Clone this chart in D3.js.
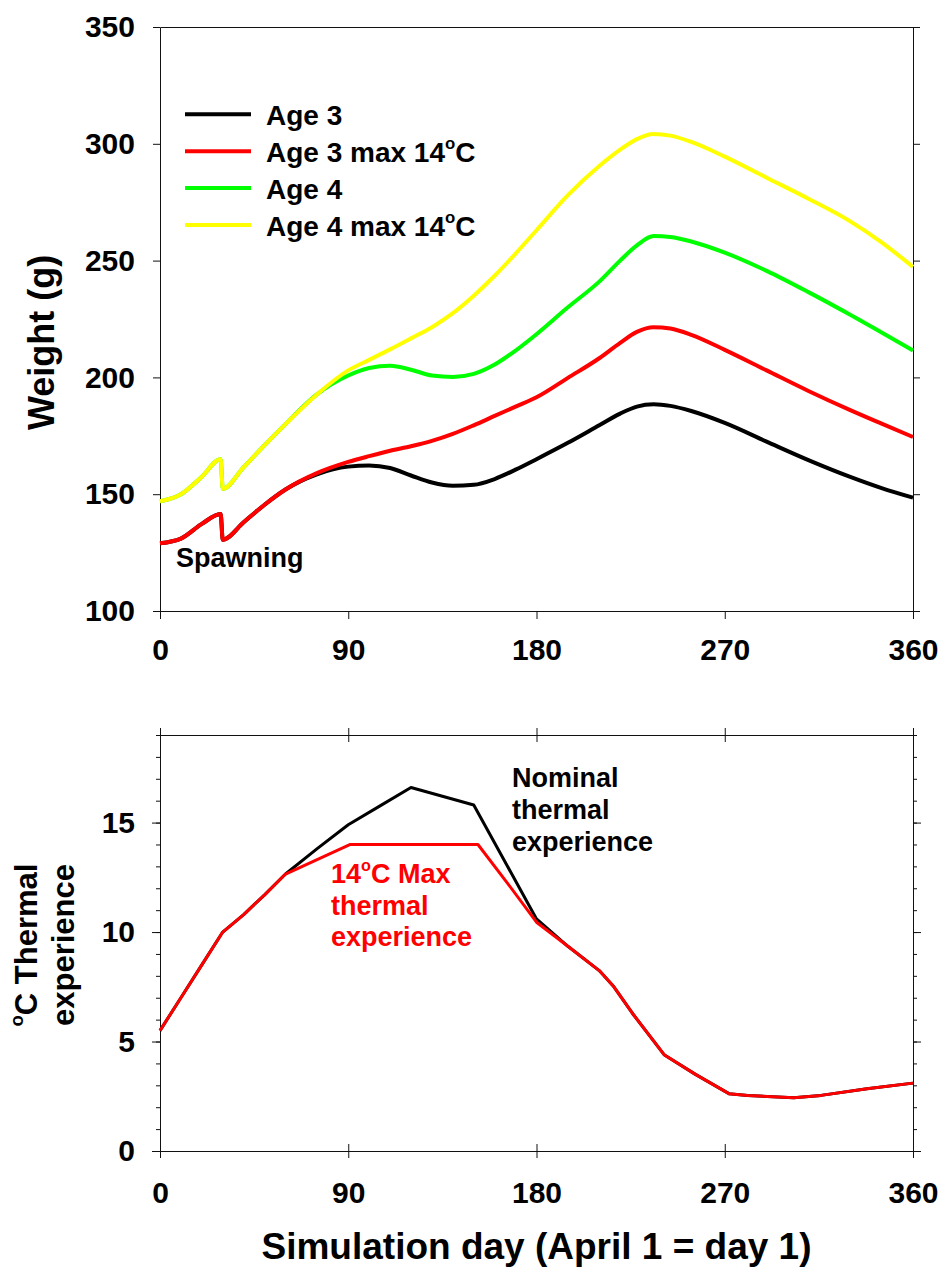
<!DOCTYPE html>
<html>
<head>
<meta charset="utf-8">
<script src="https://cdn.jsdelivr.net/npm/d3@7"></script>
<style>
body { margin: 0; background: #fff; }
svg text { font-family: "Liberation Sans", Arial, sans-serif; font-weight: bold; fill: #000; }
.tick text { font-size: 30px; }
.tick line, .domain { stroke: #111; }
.line { fill: none; stroke-linejoin: round; }
</style>
</head>
<body>
<div id="chart"></div>
<script>
// ---- weight panel data ----
var days = [0, 10, 20, 29, 30, 40, 50, 60, 75, 90, 100, 110, 120, 130, 140, 150, 160, 170, 180, 195, 210, 220, 228, 236, 244, 254, 270, 290, 310, 330, 345, 360];
var age3 =      [129, 131, 137.3, 141.5, 130.5, 138, 145.5, 152, 158.5, 161.8, 162.3, 161.2, 158, 155, 153.6, 154, 156.5, 160.5, 165, 172, 179.5, 184.5, 187.5, 188.5, 187.8, 185.6, 180.5, 172.5, 164.6, 157.4, 152.6, 148.5];
var age3max14 = [129, 131, 137.3, 141.5, 130.5, 138, 145.5, 152, 159, 163.8, 166.3, 168.6, 170.5, 172.8, 175.8, 179.5, 183.5, 187.5, 191.5, 199.8, 208.2, 214.8, 219.5, 221.5, 220.9, 218.2, 211.8, 203, 194.2, 186, 180.2, 174.5];
var age4 =      [147, 150, 157.5, 165, 152.3, 161.6, 171, 180, 192.7, 200.8, 204, 205, 203.3, 200.8, 200.2, 201.5, 205.5, 211.5, 218.5, 230, 241, 250, 256.5, 260.5, 260.1, 258.2, 253.4, 245.6, 236.5, 226.8, 219.2, 211.5];
var age4max14 = [147, 150, 157.5, 165, 152.3, 161.6, 171, 180, 192.7, 203, 207.5, 212, 216.7, 221.5, 227.5, 235, 243.5, 253, 263, 278, 290.5, 297.5, 302, 304.2, 303.5, 300.8, 294.5, 285.5, 276.5, 266.8, 257.8, 247.3];
var seriesNames = ["Age 3", "Age 3 max 14", "Age 4", "Age 4 max 14"];
var seriesColors = ["#000000", "#ff0000", "#00ff00", "#ffff00"];
var weightTicks = [100, 150, 200, 250, 300, 350];
var dayTicks = [0, 90, 180, 270, 360];

// ---- thermal panel data ----
var nominalDays = [0, 10, 20, 30, 40, 50, 60, 75, 90, 105, 120, 135, 150, 165, 180, 195, 210, 217, 226, 241, 256, 272, 281, 303, 316, 338, 360];
var nominalTemp = [5.5, 7.0, 8.5, 10.0, 10.8, 11.7, 12.65, 13.8, 14.9, 15.75, 16.6, 16.2, 15.8, 13.2, 10.6, 9.35, 8.24, 7.5, 6.27, 4.4, 3.5, 2.62, 2.54, 2.43, 2.54, 2.84, 3.1];
var maxDays = [0, 10, 20, 30, 40, 50, 60, 91, 152, 166, 180, 195, 210, 217, 226, 241, 256, 272, 281, 303, 316, 338, 360];
var maxTemp = [5.5, 7.0, 8.5, 10.0, 10.8, 11.7, 12.65, 14, 14, 12.25, 10.45, 9.35, 8.24, 7.5, 6.27, 4.4, 3.5, 2.62, 2.54, 2.43, 2.54, 2.84, 3.1];
var tempTicks = [0, 5, 10, 15];
var tempMinor = d3.range(0, 20);

var svg = d3.select("#chart").append("svg")
    .attr("width", 939)
    .attr("height", 1270);

var left = 160, right = 913;
var x = d3.scaleLinear().domain([0, 360]).range([left, right]);
var yW = d3.scaleLinear().domain([100, 350]).range([611, 27]);
var yT = d3.scaleLinear().domain([0, 19]).range([1151, 735]);
var color = d3.scaleOrdinal().domain(seriesNames).range(seriesColors);

// raised small "o" before C, like the original
function degC(sel, before, after) {
  sel.append("tspan").text(before);
  sel.append("tspan").attr("font-size", "0.6em").attr("dy", "-0.75em").text("o");
  sel.append("tspan").attr("dy", "0.45em").text(after);
}

//---------------- top panel: weight ----------------
svg.append("g")
  .attr("transform", "translate(" + left + ",0)")
  .call(d3.axisLeft(yW).tickValues(weightTicks).tickSize(7).tickSizeOuter(0).tickPadding(18));

svg.append("g")
  .attr("transform", "translate(" + right + ",0)")
  .call(d3.axisRight(yW).tickValues(weightTicks).tickSize(7).tickSizeOuter(0).tickFormat(""));

svg.append("g")
  .attr("transform", "translate(0," + yW(100) + ")")
  .call(d3.axisBottom(x).tickValues(dayTicks).tickSize(8).tickSizeOuter(0).tickPadding(20));

svg.append("g")
  .attr("transform", "translate(0," + yW(350) + ")")
  .call(d3.axisTop(x).tickValues([]).tickSizeOuter(0));

var weightSeries = [age3, age3max14, age4, age4max14];

var wline = d3.line()
  .x(function(d, i) { return x(days[i]); })
  .y(function(d) { return yW(d); })
  .curve(d3.curveMonotoneX);

svg.append("g").selectAll("path")
  .data(weightSeries)
  .enter().append("path")
    .attr("class", "line")
    .attr("stroke", function(d, i) { return color(seriesNames[i]); })
    .attr("stroke-width", 4)
    .attr("d", wline);

// legend
var legend = svg.append("g").selectAll("g")
  .data(seriesNames)
  .enter().append("g")
    .attr("transform", function(d, i) { return "translate(185," + (114.3 + i * 36.9) + ")"; });

legend.append("line")
  .attr("x1", 0).attr("x2", 66)
  .attr("stroke", function(d) { return color(d); })
  .attr("stroke-width", 4);

legend.append("text")
  .attr("x", 81)
  .attr("y", 10.5)
  .style("font-size", "28px")
  .each(function(d) {
    var t = d3.select(this);
    if (d.indexOf("max") > -1) degC(t, d, "C");
    else t.text(d);
  });

svg.append("text")
  .attr("x", 176)
  .attr("y", 567)
  .style("font-size", "27px")
  .text("Spawning");

svg.append("text")
  .attr("transform", "rotate(-90)")
  .attr("x", -yW(215))
  .attr("y", 54)
  .attr("text-anchor", "middle")
  .style("font-size", "36px")
  .text("Weight (g)");

//---------------- bottom panel: temperature ----------------
svg.append("g")
  .attr("transform", "translate(" + left + ",0)")
  .call(d3.axisLeft(yT).tickValues(tempMinor).tickSize(4).tickSizeOuter(0).tickFormat(""));

svg.append("g")
  .attr("transform", "translate(" + left + ",0)")
  .call(d3.axisLeft(yT).tickValues(tempTicks).tickSize(8).tickSizeOuter(0).tickPadding(17));

svg.append("g")
  .attr("transform", "translate(" + right + ",0)")
  .call(d3.axisRight(yT).tickValues(tempMinor).tickSize(4).tickSizeOuter(0).tickFormat(""));

svg.append("g")
  .attr("transform", "translate(" + right + ",0)")
  .call(d3.axisRight(yT).tickValues(tempTicks).tickSize(8).tickSizeOuter(0).tickFormat(""));

var xb = svg.append("g")
  .attr("transform", "translate(0," + yT(0) + ")")
  .call(d3.axisBottom(x).tickValues(dayTicks).tickSize(7).tickSizeOuter(0).tickPadding(24));
xb.selectAll(".tick line").attr("y1", -7);

var xt = svg.append("g")
  .attr("transform", "translate(0," + yT(19) + ")")
  .call(d3.axisTop(x).tickValues(dayTicks).tickSize(7).tickSizeOuter(0).tickFormat(""));
xt.selectAll(".tick line").attr("y1", 7);

var tline = d3.line()
  .x(function(d) { return x(d[0]); })
  .y(function(d) { return yT(d[1]); });

svg.append("path")
  .attr("class", "line")
  .attr("stroke", "#000")
  .attr("stroke-width", 3)
  .attr("d", tline(d3.zip(nominalDays, nominalTemp)));

svg.append("path")
  .attr("class", "line")
  .attr("stroke", "#ff0000")
  .attr("stroke-width", 3)
  .attr("d", tline(d3.zip(maxDays, maxTemp)));

// labels on the curves
var nom = svg.append("text")
  .attr("x", 512)
  .attr("y", 787)
  .style("font-size", "27px");
["Nominal", "thermal", "experience"].forEach(function(s, i) {
  nom.append("tspan").attr("x", 512).attr("dy", i ? 32 : 0).text(s);
});

var mx = svg.append("text")
  .attr("x", 331)
  .attr("y", 883)
  .style("font-size", "27px")
  .style("fill", "#ff0000");
degC(mx, "14", "C Max");
mx.append("tspan").attr("x", 331).attr("y", 915).text("thermal");
mx.append("tspan").attr("x", 331).attr("y", 946).text("experience");

var yt = svg.append("text")
  .attr("transform", "rotate(-90)")
  .attr("text-anchor", "middle")
  .style("font-size", "31px");
var l1 = yt.append("tspan").attr("x", -945).attr("y", 37);
degC(l1, "", "C Thermal");
yt.append("tspan").attr("x", -945).attr("y", 74).text("experience");

svg.append("text")
  .attr("x", (left + right) / 2)
  .attr("y", 1259)
  .attr("text-anchor", "middle")
  .style("font-size", "37px")
  .text("Simulation day (April 1 = day 1)");
</script>
</body>
</html>
